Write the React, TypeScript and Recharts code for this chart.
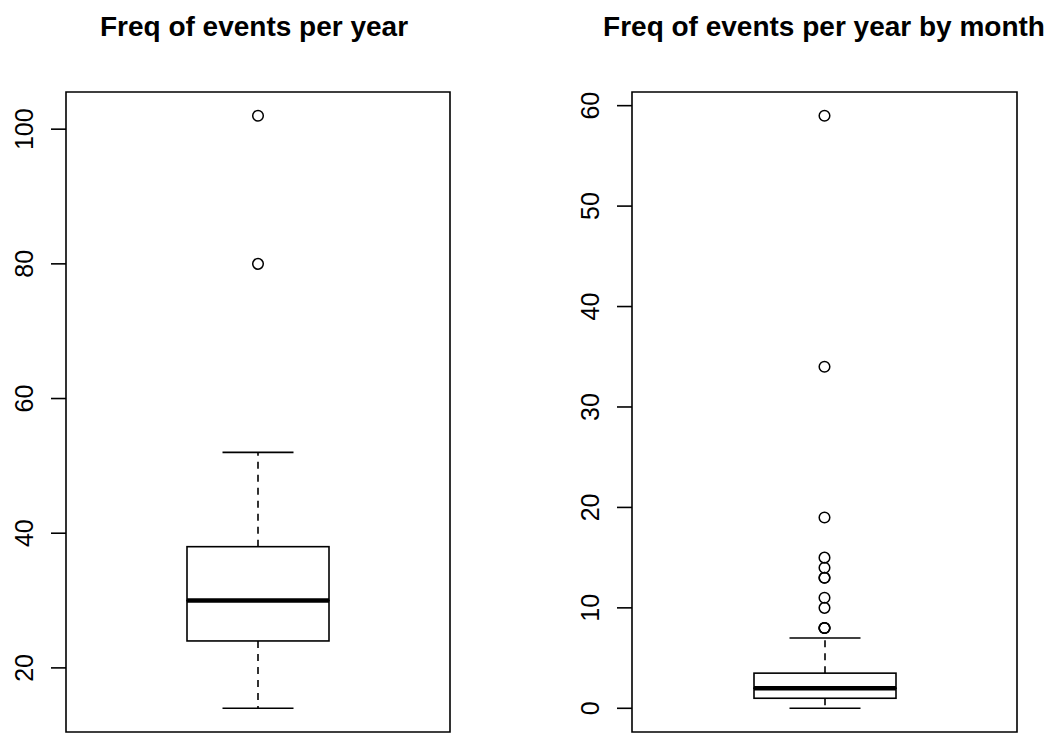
import { Bar, ComposedChart, ReferenceArea, Scatter, XAxis, YAxis } from "recharts"

// box stats: [min whisker, Q1, median, Q3, max whisker]
const yearStats = [14, 24, 30, 38, 52]
const yearOutliers = [102, 80]
const yearTicks = [20, 40, 60, 80, 100]
const yearDomain = [10.48, 105.52]

const monthStats = [0, 1, 2, 3.5, 7]
const monthOutliers = [59, 34, 19, 15, 14, 13, 13, 11, 10, 8, 8, 8]
const monthTicks = [0, 10, 20, 30, 40, 50, 60]
const monthDomain = [-2.36, 61.36]

const font = "'Liberation Sans', Arial, Helvetica, sans-serif"
const lw = 1.6

function toRow(stats: number[]) {
  const [lo, q1, med, q3, hi] = stats
  return [{ name: "x", base: lo, whiskLo: q1 - lo, boxLo: med - q1, boxHi: q3 - med, whiskHi: hi - q3 }]
}

function WhiskerLow(props: any) {
  const { x, y, width, height } = props
  const cx = x + width / 2
  const bottom = y + height
  return (
    <g>
      <line x1={cx} x2={cx} y1={y} y2={bottom} stroke="#000" strokeWidth={lw} strokeDasharray="7 6" />
      <line x1={cx - width / 4} x2={cx + width / 4} y1={bottom} y2={bottom} stroke="#000" strokeWidth={lw} />
    </g>
  )
}

function WhiskerHigh(props: any) {
  const { x, y, width, height } = props
  const cx = x + width / 2
  return (
    <g>
      <line x1={cx} x2={cx} y1={y + height} y2={y} stroke="#000" strokeWidth={lw} strokeDasharray="7 6" />
      <line x1={cx - width / 4} x2={cx + width / 4} y1={y} y2={y} stroke="#000" strokeWidth={lw} />
    </g>
  )
}

function BoxLow(props: any) {
  const { x, y, width, height } = props
  return <rect x={x} y={y} width={width} height={height} fill="#fff" stroke="#000" strokeWidth={lw} />
}

function BoxHigh(props: any) {
  const { x, y, width, height } = props
  return (
    <g>
      <rect x={x} y={y} width={width} height={height} fill="#fff" stroke="#000" strokeWidth={lw} />
      <line x1={x} x2={x + width} y1={y + height} y2={y + height} stroke="#000" strokeWidth={4.5} />
    </g>
  )
}

function Nothing() {
  return <g />
}

function OpenCircle(props: any) {
  const { cx, cy } = props
  return <circle cx={cx} cy={cy} r={5.3} fill="none" stroke="#000" strokeWidth={1.5} />
}

function RotTick(props: any) {
  const { x, y, payload } = props
  const bx = x - 16
  return (
    <text x={bx} y={y} transform={`rotate(-90 ${bx} ${y})`} textAnchor="middle" fontSize={25} fontFamily={font} fill="#000">
      {payload.value}
    </text>
  )
}

function BoxPanel({ stats, outliers, ticks, domain, width, axisWidth, right }: any) {
  const rows = toRow(stats)
  const pts = outliers.map((v: number) => ({ name: "x", value: v }))
  return (
    <ComposedChart width={width} height={733} data={rows} margin={{ top: 92, right, bottom: 1, left: 0 }}>
      <XAxis dataKey="name" type="category" allowDuplicatedCategory={false} hide height={0} />
      <YAxis
        type="number"
        domain={domain}
        allowDataOverflow
        ticks={ticks}
        interval={0}
        width={axisWidth}
        axisLine={false}
        tickSize={15}
        tickLine={{ stroke: "#000", strokeWidth: lw }}
        tick={<RotTick />}
      />
      <Bar dataKey="base" stackId="b" barSize={142} shape={<Nothing />} isAnimationActive={false} />
      <Bar dataKey="whiskLo" stackId="b" barSize={142} shape={<WhiskerLow />} isAnimationActive={false} />
      <Bar dataKey="boxLo" stackId="b" barSize={142} shape={<BoxLow />} isAnimationActive={false} />
      <Bar dataKey="boxHi" stackId="b" barSize={142} shape={<BoxHigh />} isAnimationActive={false} />
      <Bar dataKey="whiskHi" stackId="b" barSize={142} shape={<WhiskerHigh />} isAnimationActive={false} />
      <Scatter data={pts} dataKey="value" shape={<OpenCircle />} isAnimationActive={false} />
      <ReferenceArea y1={domain[0]} y2={domain[1]} fill="none" fillOpacity={0} stroke="#000" strokeWidth={lw} strokeOpacity={1} ifOverflow="visible" />
    </ComposedChart>
  )
}

const titleStyle: any = {
  position: "absolute",
  top: 13,
  fontFamily: font,
  fontWeight: "bold",
  fontSize: 28,
  lineHeight: 1,
  whiteSpace: "nowrap",
  transform: "translateX(-50%)",
  color: "#000",
}

export default function App() {
  return (
    <div style={{ position: "absolute", left: 0, top: 0, width: 1055, height: 733, background: "#fff", overflow: "hidden" }}>
      <div style={{ ...titleStyle, left: 254 }}>Freq of events per year</div>
      <div style={{ ...titleStyle, left: 824 }}>Freq of events per year by month</div>
      <div style={{ position: "absolute", left: 0, top: 0 }}>
        <BoxPanel stats={yearStats} outliers={yearOutliers} ticks={yearTicks} domain={yearDomain} width={527} axisWidth={66} right={77} />
      </div>
      <div style={{ position: "absolute", left: 527, top: 0 }}>
        <BoxPanel stats={monthStats} outliers={monthOutliers} ticks={monthTicks} domain={monthDomain} width={528} axisWidth={105} right={38} />
      </div>
    </div>
  )
}
